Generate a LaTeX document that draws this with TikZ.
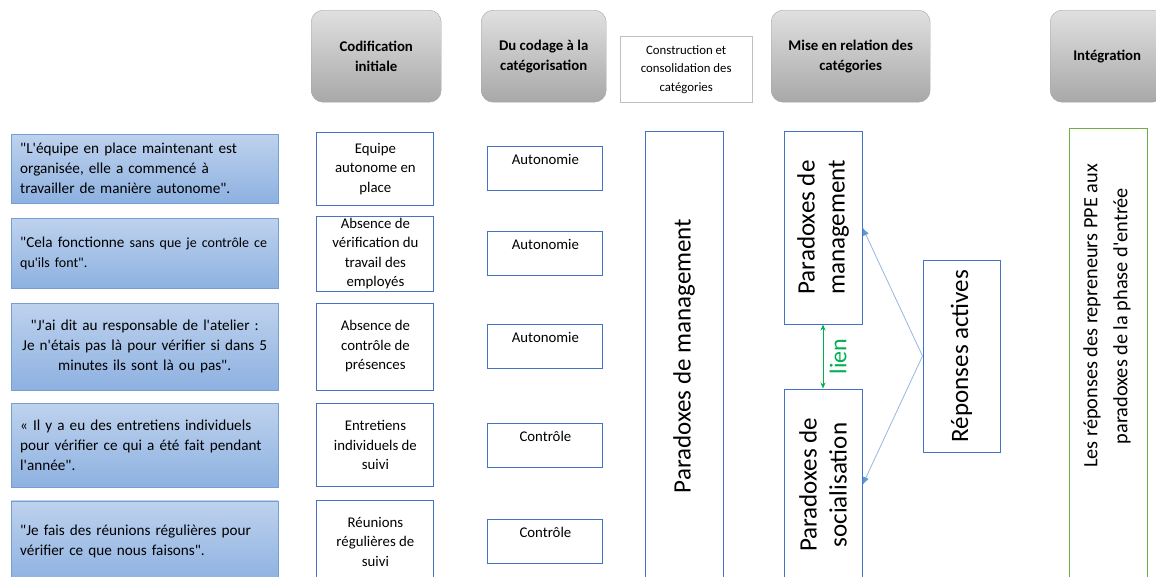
\documentclass[tikz,border=0pt]{standalone}
\usepackage{fontspec}
\setmainfont{Carlito}[Ligatures=TeXOff]
\usepackage{tikz}
\usetikzlibrary{positioning,calc,shapes,arrows.meta}
\definecolor{QuoteTop}{RGB}{190,210,237}
\definecolor{QuoteBottom}{RGB}{141,177,225}
\definecolor{QuoteBorder}{RGB}{118,158,212}
\definecolor{HeaderTop}{RGB}{224,224,224}
\definecolor{HeaderBottom}{RGB}{168,168,168}
\definecolor{HeaderBorder}{RGB}{165,165,165}
\definecolor{BoxBlue}{RGB}{68,114,196}
\definecolor{BoxGreen}{RGB}{112,173,71}
\definecolor{LienGreen}{RGB}{0,176,80}
\definecolor{LinkBlue}{RGB}{150,182,224}
\definecolor{TipBlue}{RGB}{91,155,213}
\tikzstyle{every picture}+=[font=\fontsize{15.2}{20}\selectfont]
\tikzset{%
  header/.style={%
    draw=HeaderBorder, rounded corners=12pt, top color=HeaderTop,
    bottom color=HeaderBottom, minimum height=92pt, anchor=north west,
    align=center, font=\bfseries\fontsize{14.8}{20}\selectfont
  },
  stage/.style={%
    draw=HeaderBorder!70, minimum height=66pt, anchor=north west,
    align=center, font=\fontsize{12.8}{18.5}\selectfont
  },
  quote/.style={%
    draw=QuoteBorder, top color=QuoteTop, bottom color=QuoteBottom,
    text width=249pt, inner xsep=9pt, align=left
  },
  code/.style={%
    draw=BoxBlue, line width=1pt, minimum width=117pt, inner sep=2pt,
    align=center, font=\fontsize{14.8}{19.5}\selectfont
  },
  category/.style={%
    draw=BoxBlue, line width=1pt, minimum width=115pt, minimum height=44pt,
    text height=10pt, text depth=18pt, font=\fontsize{14.8}{19.5}\selectfont
  },
  paradox/.style={%
    draw=BoxBlue, line width=1pt, rotate=90, minimum height=78pt,
    align=center, font=\fontsize{25}{30}\selectfont
  },
  link/.style={color=LinkBlue, line width=0.8pt, -{Latex[length=8pt,width=6pt,color=TipBlue]}},
  lien/.style={draw=LienGreen, line width=0.8pt, {Stealth[length=6pt,width=5pt]}-{Stealth[length=6pt,width=5pt]}},
}

\begin{document}
\begin{tikzpicture}[x=1pt,y=-1pt]
    \useasboundingbox (0,0) rectangle (1156,576);
    \clip (0,0) rectangle (1156,576);

    % column headings
    \node (CODIFICATION)[header, minimum width=130pt] at (311,10) {Codification\\initiale};
    \node (CODAGE)[header, minimum width=125pt] at (481,10) {Du codage à la\\catégorisation};
    \node (CONSTRUCTION)[stage, minimum width=132pt] at (620,36) {Construction et\\consolidation des\\catégories};
    \node (RELATION)[header, minimum width=159pt] at (771,10) {Mise en relation des\\catégories};
    \node (INTEGRATION)[header, minimum width=114pt] at (1050,10) {Intégration};

    % verbatims
    \node (Quote1)[quote, minimum height=69pt, anchor=north west] at (11,134) {%
        "L'équipe en place maintenant est\\organisée, elle a commencé à\\travailler de manière autonome".};
    \node (Quote2)[quote, minimum height=70pt, below=15pt of Quote1] {%
        "Cela fonctionne {\fontsize{14}{20}\selectfont sans que je contrôle ce\\qu'ils font".}};
    \node (Quote3)[quote, minimum height=87pt, below=14pt of Quote2, align=center] {%
        "J'ai dit au responsable de l'atelier :\\Je n'étais pas là pour vérifier si dans 5\\minutes ils sont là ou pas".};
    \node (Quote4)[quote, minimum height=84pt, below=13pt of Quote3] {%
        « Il y a eu des entretiens individuels\\pour vérifier ce qui a été fait pendant\\l'année".};
    \node (Quote5)[quote, minimum height=82pt, below=13pt of Quote4] {%
        "Je fais des réunions régulières pour\\vérifier ce que nous faisons".};

    % initial codes
    \node (Code1)[code, minimum height=73pt, right=38pt of Quote1] {Equipe\\autonome en\\place};
    \node (Code2)[code, minimum height=70pt, right=38pt of Quote2] {Absence de\\vérification du\\travail des\\employés};
    \node (Code3)[code, minimum height=87pt, right=38pt of Quote3] {Absence de\\contrôle de\\présences};
    \node (Code4)[code, minimum height=83pt, right=38pt of Quote4] {Entretiens\\individuels de\\suivi};
    \node (Code5)[code, minimum height=82pt, right=38pt of Quote5] {Réunions\\régulières de\\suivi};

    % categories
    \node (Category1)[category, right=53pt of Code1] {Autonomie};
    \node (Category2)[category, right=53pt of Code2] {Autonomie};
    \node (Category3)[category, right=53pt of Code3] {Autonomie};
    \node (Category4)[category, right=53pt of Code4] {Contrôle};
    \node (Category5)[category, right=53pt of Code5] {Contrôle};

    % paradoxes
    \node (ParadoxAll)[paradox, minimum width=450pt] at (684,356) {Paradoxes de management};
    \node (ParadoxMgmt)[paradox, minimum width=193pt] at (823,227.5) {Paradoxes de\\management};
    \node (ParadoxSocial)[paradox, minimum width=192pt] at (823,485) {Paradoxes de\\socialisation};
    \node (ReponsesActives)[paradox, minimum width=192pt, minimum height=77pt] at (961.5,356) {Réponses actives};
    \node (IntegrationBox)[paradox, draw=BoxGreen, minimum width=472pt] at (1108,364) {};
    \node (IntegrationText)[rotate=90, align=center, font=\fontsize{20.3}{30}\selectfont] at (1107,316) {%
        Les réponses des repreneurs PPE aux\\paradoxes de la phase d'entrée};

    \path[lien]
        (ParadoxMgmt.west) -- node[rotate=90, text=LienGreen, font=\fontsize{24}{26}\selectfont, yshift=-15pt] (LienLabel) {lien} (ParadoxSocial.east);

    \path[link]
        (ReponsesActives.north) edge (ParadoxMgmt.south)
        (ReponsesActives.north) edge (ParadoxSocial.south);
\end{tikzpicture}
\end{document}
